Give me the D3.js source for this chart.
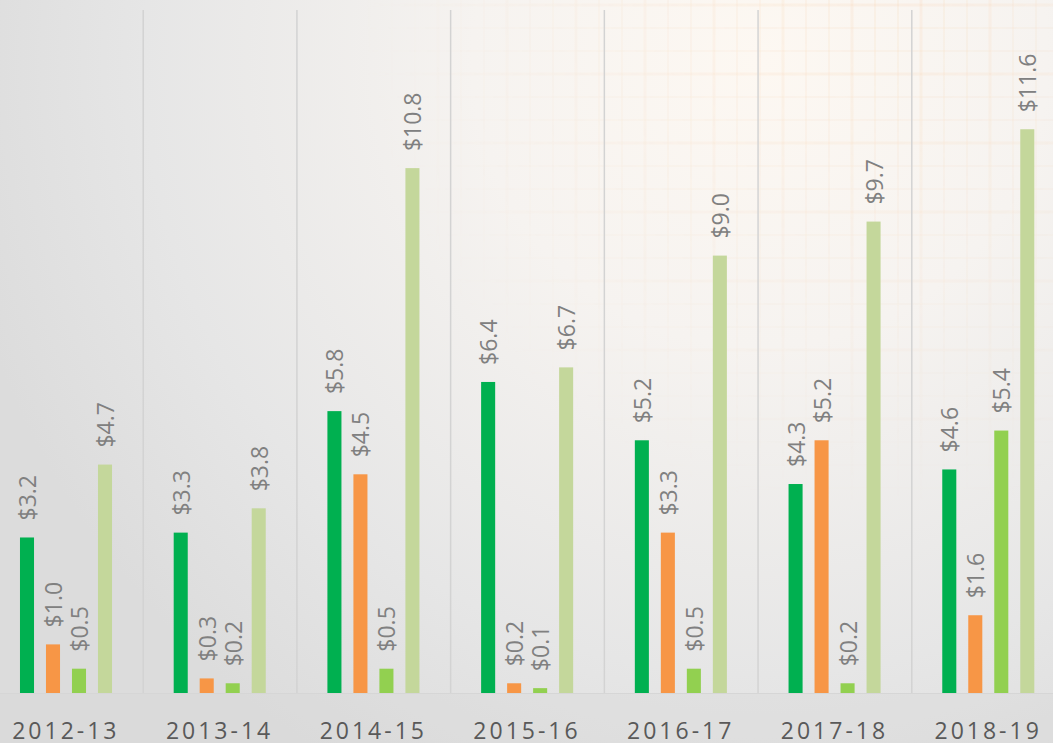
<!DOCTYPE html>
<html>
<head>
<meta charset="utf-8">
<script src="https://cdn.jsdelivr.net/npm/d3@7"></script>
<style>
  html, body { margin: 0; padding: 0; overflow: hidden; }
  svg { display: block; }
</style>
</head>
<body>
<svg width="1053" height="743"></svg>
<script>
let years = ['2012-13', '2013-14', '2014-15', '2015-16', '2016-17', '2017-18', '2018-19']
let series = ['a', 'b', 'c', 'd']
let seriesA = [3.2, 3.3, 5.8, 6.4, 5.2, 4.3, 4.6]
let seriesB = [1.0, 0.3, 4.5, 0.2, 3.3, 5.2, 1.6]
let seriesC = [0.5, 0.2, 0.5, 0.1, 0.5, 0.2, 5.4]
let seriesD = [4.7, 3.8, 10.8, 6.7, 9.0, 9.7, 11.6]
let colors = ['#00b050', '#f79646', '#92d050', '#c4d79b']

let width = 1053
let height = 743
let baseline = 693

let svg = d3.select('svg')
let defs = svg.append('defs')

// background: grey with a warm patch top right
let bg = defs.append('radialGradient')
  .attr('id', 'bg')
  .attr('gradientUnits', 'userSpaceOnUse')
  .attr('cx', 760).attr('cy', 60).attr('r', 820)
bg.append('stop').attr('offset', 0).attr('stop-color', '#fdf8f2')
bg.append('stop').attr('offset', 0.35).attr('stop-color', '#f6f3f0')
bg.append('stop').attr('offset', 0.75).attr('stop-color', '#e6e6e6')
bg.append('stop').attr('offset', 1).attr('stop-color', '#dcdcdc')

let fade = defs.append('radialGradient')
  .attr('id', 'fade')
  .attr('gradientUnits', 'userSpaceOnUse')
  .attr('cx', 880).attr('cy', 0).attr('r', 520)
fade.append('stop').attr('offset', 0).attr('stop-color', '#fff').attr('stop-opacity', 1)
fade.append('stop').attr('offset', 1).attr('stop-color', '#fff').attr('stop-opacity', 0)
defs.append('mask').attr('id', 'fadeMask')
  .append('rect').attr('width', width).attr('height', height).attr('fill', 'url(#fade)')

svg.append('rect')
  .attr('width', width).attr('height', height)
  .attr('fill', 'url(#bg)')

// faint plaid texture
let tex = svg.append('g').attr('mask', 'url(#fadeMask)')
  .attr('stroke', '#f7c89a').attr('fill', 'none')
d3.range(300, width, 23).forEach((x, i) => {
  tex.append('line')
    .attr('x1', x).attr('x2', x).attr('y1', 0).attr('y2', 500)
    .attr('stroke-width', i % 3 == 0 ? 3 : 1.2)
    .attr('stroke-opacity', i % 3 == 0 ? 0.16 : 0.22)
})
d3.range(5, 500, 23).forEach((y, i) => {
  tex.append('line')
    .attr('y1', y).attr('y2', y).attr('x1', 300).attr('x2', width)
    .attr('stroke-width', i % 3 == 0 ? 3 : 1.2)
    .attr('stroke-opacity', i % 3 == 0 ? 0.16 : 0.22)
})

// slightly darker strip below the axis
svg.append('rect')
  .attr('y', baseline).attr('width', width).attr('height', height - baseline)
  .attr('fill', '#d8d8d8').attr('opacity', 0.35)

let x0 = d3.scaleBand()
  .domain(years)
  .range([-11, 1065])

let x1 = d3.scaleBand()
  .domain(series)
  .range([25, 129])
  .paddingInner(0.46)
  .paddingOuter(0.23)

let y = d3.scaleLinear()
  .domain([0, 11.6])
  .range([baseline, baseline - 11.6 * 48.6])

// vertical separators between groups
svg.append('g')
  .selectAll('line')
  .data(years.slice(1))
  .join('line')
  .attr('x1', d => x0(d) + 0.5)
  .attr('x2', d => x0(d) + 0.5)
  .attr('y1', 10)
  .attr('y2', baseline)
  .attr('stroke', '#d3d3d3')
  .attr('stroke-width', 1.5)

svg.append('line')
  .attr('x1', 0).attr('x2', width)
  .attr('y1', baseline + 0.5).attr('y2', baseline + 0.5)
  .attr('stroke', '#d6d6d6')
  .attr('stroke-width', 1)

let values = [seriesA, seriesB, seriesC, seriesD]
let cells = []
years.forEach((yr, i) => {
  series.forEach((s, j) => {
    cells.push({ year: yr, key: s, value: values[j][i], color: colors[j] })
  })
})

let groups = svg.append('g')

groups.selectAll('rect')
  .data(cells)
  .join('rect')
  .attr('x', d => x0(d.year) + x1(d.key))
  .attr('y', d => y(d.value))
  .attr('width', x1.bandwidth())
  .attr('height', d => baseline - y(d.value))
  .attr('fill', d => d.color)

groups.selectAll('text')
  .data(cells)
  .join('text')
  .attr('transform', d => 'translate(' + [x0(d.year) + x1(d.key) + x1.bandwidth() / 2 + 9, y(d.value) - 17] + ') rotate(-90)')
  .attr('font-family', 'Open Sans, sans-serif')
  .attr('font-size', 23)
  .attr('fill', '#808080')
  .text(d => '$' + d.value.toFixed(1))

let xAxis = d3.axisBottom(x0).tickSize(0).tickPadding(0)
let axisG = svg.append('g')
  .attr('transform', 'translate(' + [0, baseline] + ')')
  .call(xAxis)
axisG.select('.domain').remove()
axisG.selectAll('text')
  .attr('dy', 0)
  .attr('y', 46)
  .attr('font-family', 'Open Sans, sans-serif')
  .attr('font-size', 23)
  .attr('letter-spacing', 3)
  .attr('fill', '#595959')
</script>
</body>
</html>
